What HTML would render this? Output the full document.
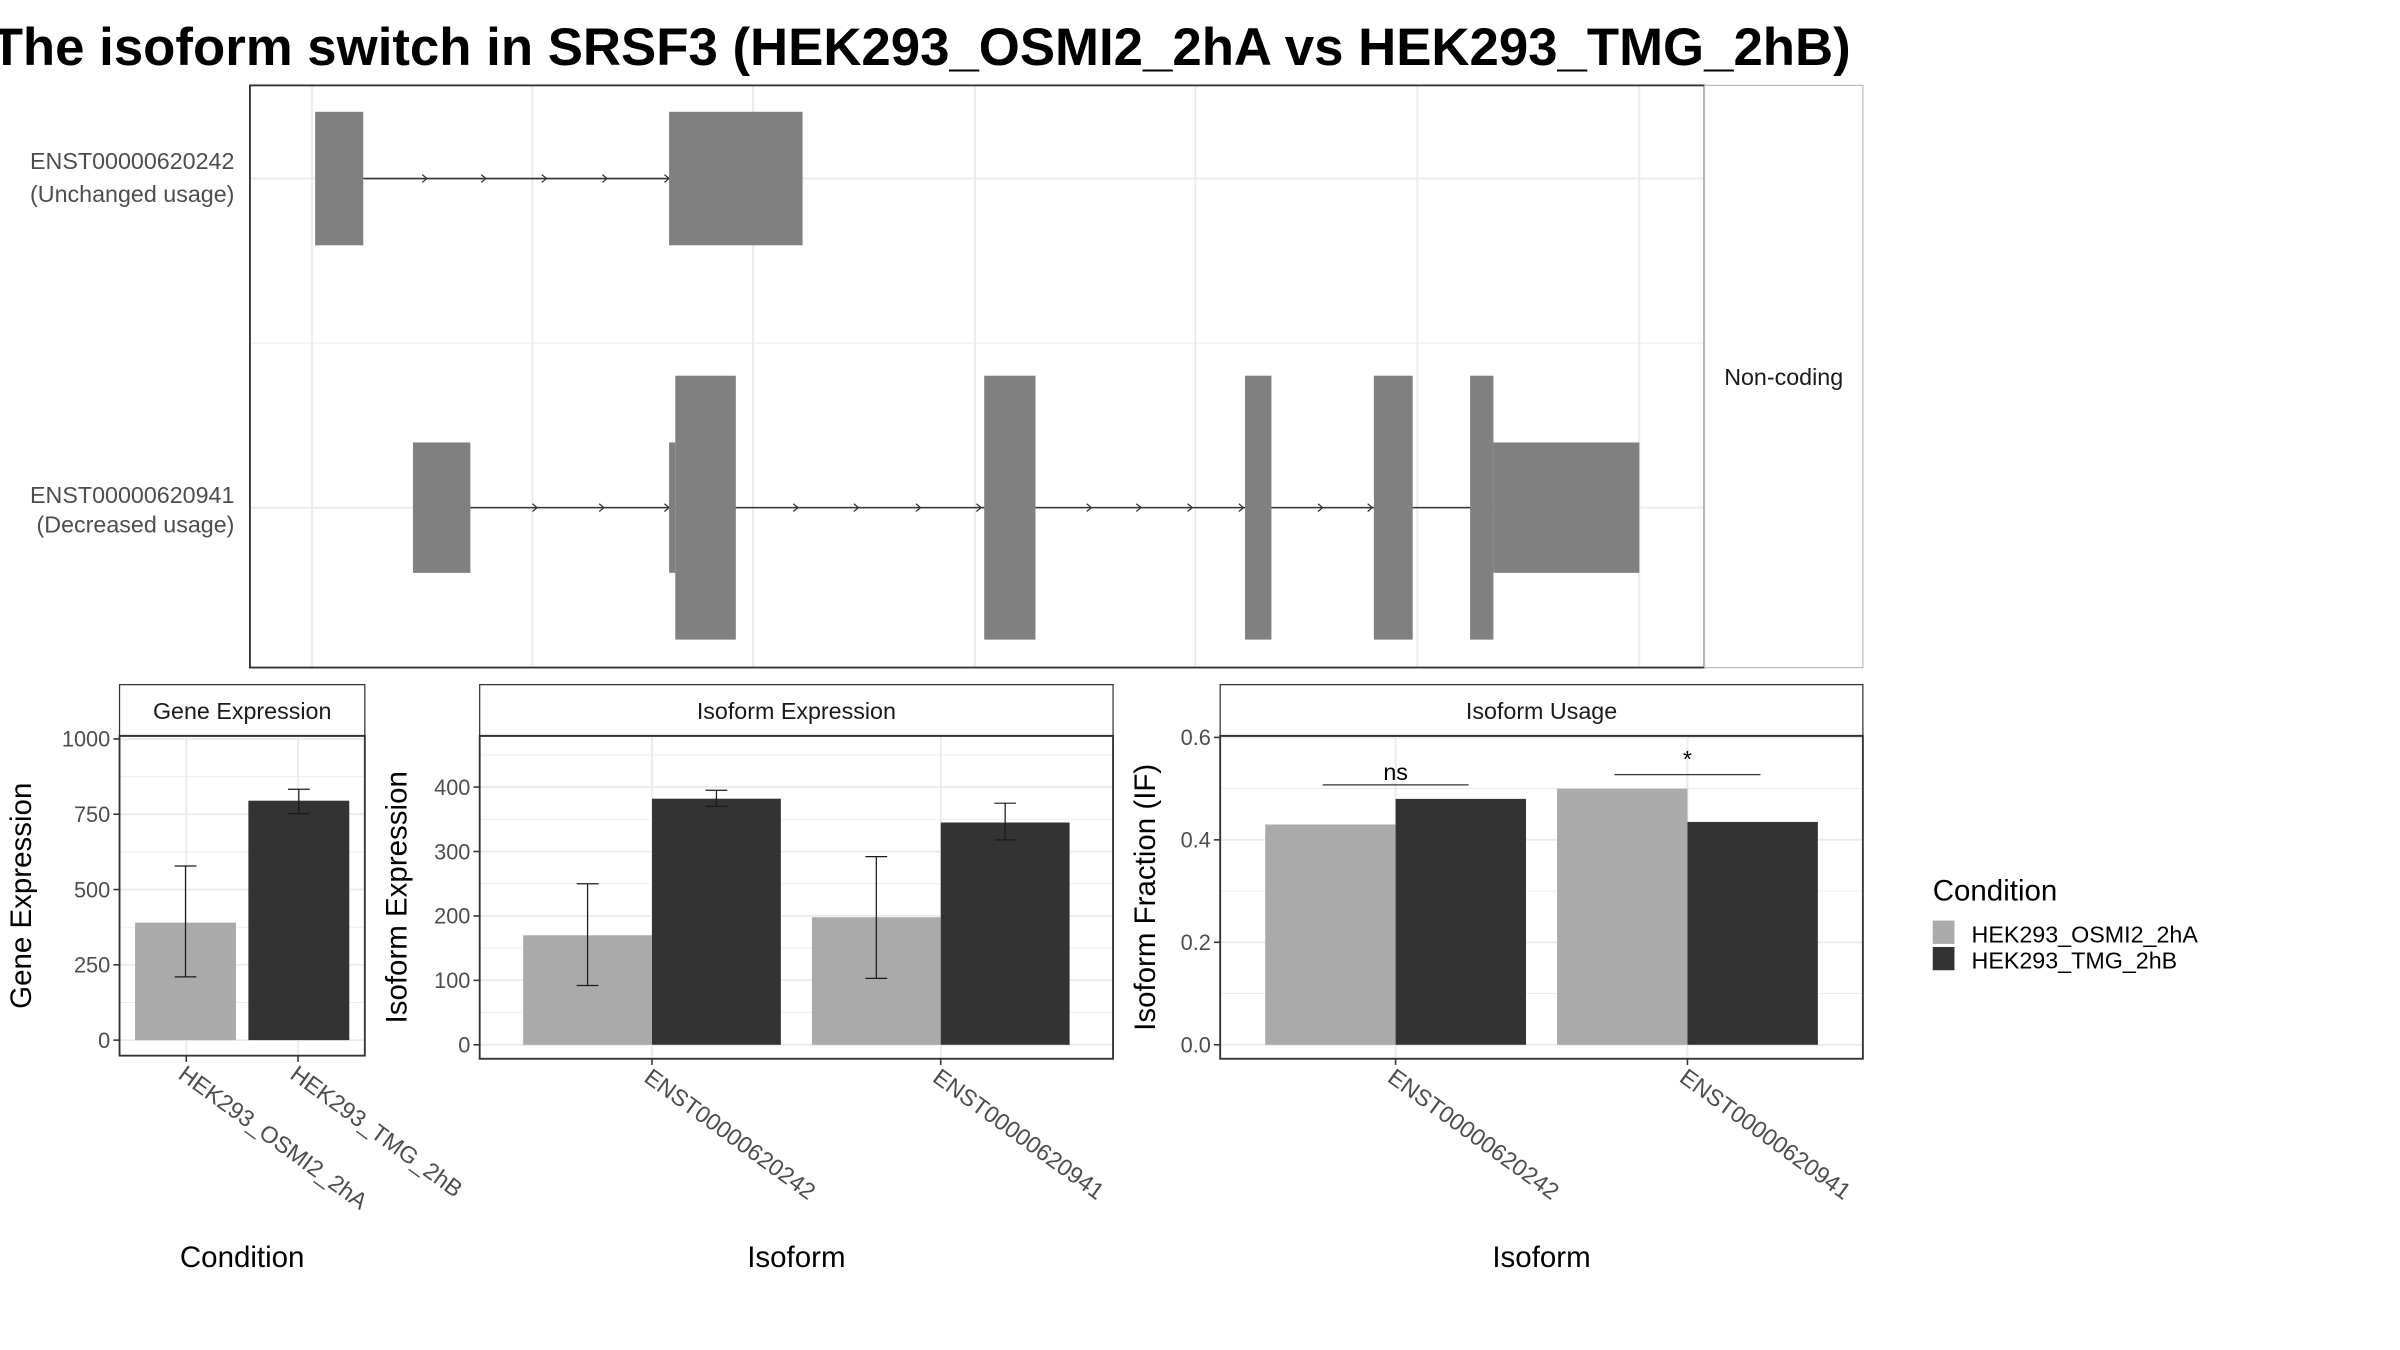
<!DOCTYPE html>
<html><head><meta charset="utf-8"><style>
html,body{margin:0;padding:0;background:#fff;width:2400px;height:1350px;overflow:hidden}
svg{display:block;font-family:"Liberation Sans",sans-serif}
</style></head><body>
<svg id="s" width="2400" height="1350" viewBox="0 0 1546 869.6" xmlns="http://www.w3.org/2000/svg">
<text x="-6" y="42" font-size="34" font-weight="bold" fill="#000">The isoform switch in SRSF3 (HEK293_OSMI2_2hA vs HEK293_TMG_2hB)</text>
<g id="tx"></g>
<g id="ge"></g>
<g id="ie"></g>
<g id="iu"></g>
<g>
<text x="1245" y="580" font-size="19">Condition</text>
<rect x="1245" y="593" width="14" height="15" fill="#aaaaaa"/>
<rect x="1245" y="610" width="14" height="15" fill="#333333"/>
<text x="1270" y="607" font-size="15">HEK293_OSMI2_2hA</text>
<text x="1270" y="624" font-size="15">HEK293_TMG_2hB</text>
</g>
</svg>
<script>
// ---- data ----
const conditions = ["HEK293_OSMI2_2hA","HEK293_TMG_2hB"];
const isoforms = ["ENST00000620242","ENST00000620941"];
const geneExpr = [390, 795];
const geneLo = [210, 752];
const geneHi = [578, 833];
const isoExprA = [170, 198];
const isoExprB = [382, 345];
const isoLoA = [92, 103], isoHiA = [250, 292];
const isoLoB = [370, 318], isoHiB = [395, 375];
const ifA = [0.43, 0.50];
const ifB = [0.48, 0.435];
const sigLabels = ["ns","*"];
const geneTicks = [0,250,500,750,1000];
const isoTicks = [0,100,200,300,400];
const ifTicks = [0.0,0.2,0.4,0.6];
const colors = ["#aaaaaa","#333333"];

const NS="http://www.w3.org/2000/svg";
function el(p,tag,a,txt){const e=document.createElementNS(NS,tag);for(const k in a)e.setAttribute(k,a[k]);if(txt!==undefined)e.textContent=txt;p.appendChild(e);return e;}

// ---- transcript panel ----
(function(){
const g=document.getElementById('tx');
el(g,'rect',{x:161,y:55,width:937,height:375,fill:'#fff'});
[201,343,485,628,770,913,1056].forEach(x=>el(g,'line',{x1:x,x2:x,y1:55,y2:430,stroke:'#ebebeb','stroke-width':1.2}));
[[115,1.2],[221,0.6],[327,1.2]].forEach(([y,w])=>el(g,'line',{x1:161,x2:1098,y1:y,y2:y,stroke:'#ebebeb','stroke-width':w}));
function tr(cy,x1,x2,arrows,exons,name){
  const t=el(g,'g',{});
  
  
  el(t,'line',{x1:x1,x2:x2,y1:cy,y2:cy,stroke:'#333','stroke-width':1});
  arrows.forEach(x=>el(t,'path',{d:`M${x-3},${cy-2.5} L${x},${cy} L${x-3},${cy+2.5}`,fill:'none',stroke:'#333','stroke-width':0.8}));
  exons.forEach(([a,b,h])=>{const r=el(t,'rect',{x:a,y:cy-h,width:b-a,height:2*h,fill:'#808080'});
    
    });
}
tr(115,234,431,[275,313,352,391,431],[[203,234,43],[431,517,43]],'transcript-ENST00000620242');
tr(327,303,962,[346,389,431,514,553,593,632,703,735,768,801,852,884],
  [[266,303,42],[431,435,42],[435,474,85],[634,667,85],[802,819,85],[885,910,85],[947,962,85],[962,1056,42]],'transcript-ENST00000620941');
el(g,'rect',{x:161,y:55,width:937,height:375,fill:'none',stroke:'#333','stroke-width':1.2});
el(g,'rect',{x:1098,y:55,width:102,height:375,fill:'#fff',stroke:'#bbb','stroke-width':0.8});
const nc=el(g,'text',{x:1149,y:248,'font-size':15,'text-anchor':'middle',fill:'#1a1a1a'},'Non-coding');


[['ENST00000620242',109],['(Unchanged usage)',130],['ENST00000620941',324],['(Decreased usage)',343]].forEach(([t,y])=>{
  const e=el(g,'text',{x:151,y:y,'font-size':15,'text-anchor':'end',fill:'#4d4d4d'},t);
  
  });
})();

// ---- bar panel builder ----
function panel(id,o){
  const g=document.getElementById(id);
  const y=v=>o.y0-(v-o.vmin)/(o.vmax-o.vmin)*(o.y0-o.y1);
  el(g,'rect',{x:o.px,y:474,width:o.pw,height:o.pb-474,fill:'#fff'});
  o.ticks.forEach((t,i)=>{
    if(i<o.ticks.length-1){const m=(t+o.ticks[i+1])/2;el(g,'line',{x1:o.px,x2:o.px+o.pw,y1:y(m),y2:y(m),stroke:'#ebebeb','stroke-width':0.6});}
    el(g,'line',{x1:o.px,x2:o.px+o.pw,y1:y(t),y2:y(t),stroke:'#ebebeb','stroke-width':1.2});
  });
  if(o.extraMinor) el(g,'line',{x1:o.px,x2:o.px+o.pw,y1:y(o.extraMinor),y2:y(o.extraMinor),stroke:'#ebebeb','stroke-width':0.6});
  o.centers.forEach(c=>el(g,'line',{x1:c,x2:c,y1:474,y2:o.pb,stroke:'#ebebeb','stroke-width':1.2}));
  o.bars.forEach(b=>{
    const r=el(g,'rect',{x:b.x,y:y(b.v),width:b.w,height:y(o.vmin)-y(b.v),fill:b.c});
    
    
    if(b.lo!==undefined){
      const cx=b.x+b.w/2,e=el(g,'g',{stroke:'#1a1a1a','stroke-width':0.8});
      
      
      el(e,'line',{x1:cx,x2:cx,y1:y(b.lo),y2:y(b.hi)});
      el(e,'line',{x1:cx-7,x2:cx+7,y1:y(b.lo),y2:y(b.lo)});
      el(e,'line',{x1:cx-7,x2:cx+7,y1:y(b.hi),y2:y(b.hi)});
    }
  });
  el(g,'rect',{x:o.px,y:474,width:o.pw,height:o.pb-474,fill:'none',stroke:'#333','stroke-width':1.2});
  el(g,'rect',{x:o.px,y:441,width:o.pw,height:33,fill:'#fff',stroke:'#333','stroke-width':0.8});
  el(g,'line',{x1:o.px,x2:o.px+o.pw,y1:474,y2:474,stroke:'#333','stroke-width':1.2});
  const st=el(g,'text',{x:o.px+o.pw/2,y:463,'font-size':15,'text-anchor':'middle',fill:'#1a1a1a'},o.strip);
  
  
  o.ticks.forEach(t=>{
    el(g,'line',{x1:o.px-4,x2:o.px,y1:y(t),y2:y(t),stroke:'#333','stroke-width':1});
    const tl=el(g,'text',{x:o.px-6,y:y(t)+5,'font-size':14,'text-anchor':'end',fill:'#4d4d4d'},o.fmt(t));
    
    
  });
  o.centers.forEach((c,i)=>{
    el(g,'line',{x1:c,x2:c,y1:o.pb,y2:o.pb+4,stroke:'#333','stroke-width':1});
    const tl=el(g,'text',{x:c-6,y:o.pb+14,'font-size':15,fill:'#4d4d4d',transform:`rotate(36 ${c-6} ${o.pb+14})`},o.labels[i]);
    
    
  });
  const yt=el(g,'text',{x:0,y:0,'font-size':19,'text-anchor':'middle',fill:'#000',transform:`translate(${o.ytx},${(474+o.pb)/2}) rotate(-90)`},o.ytitle);
  
  
  const xt=el(g,'text',{x:o.px+o.pw/2,y:816,'font-size':19,'text-anchor':'middle',fill:'#000'},o.xtitle);
  
  
  return {g,y};
}

// gene expression
panel('ge',{px:77,pw:158,pb:680,y0:670,y1:476,vmin:0,vmax:1000,ticks:geneTicks,fmt:t=>String(t),
  centers:[120,192],labels:conditions,strip:'Gene Expression',ytitle:'Gene Expression',ytx:20,xtitle:'Condition',
  bars:geneExpr.map((v,i)=>({x:[87,160][i],w:65,v:v,c:colors[i],lo:geneLo[i],hi:geneHi[i],name:'bar-gene-'+conditions[i]}))});

// isoform expression
const gc1=[420,606];
panel('ie',{px:309,pw:408,pb:682,y0:673,y1:507,vmin:0,vmax:400,ticks:isoTicks,fmt:t=>String(t),extraMinor:450,
  centers:gc1,labels:isoforms,strip:'Isoform Expression',ytitle:'Isoform Expression',ytx:262,xtitle:'Isoform',
  bars:[].concat(...isoforms.map((f,i)=>[
    {x:gc1[i]-83,w:83,v:isoExprA[i],c:colors[0],lo:isoLoA[i],hi:isoHiA[i],name:'bar-isoexpr-A-'+f},
    {x:gc1[i],w:83,v:isoExprB[i],c:colors[1],lo:isoLoB[i],hi:isoHiB[i],name:'bar-isoexpr-B-'+f}]))});

// isoform usage
const gc2=[899,1087];
const u=panel('iu',{px:786,pw:414,pb:682,y0:673,y1:475,vmin:0,vmax:0.6,ticks:ifTicks,fmt:t=>t.toFixed(1),
  centers:gc2,labels:isoforms,strip:'Isoform Usage',ytitle:'Isoform Fraction (IF)',ytx:744,xtitle:'Isoform',
  bars:[].concat(...isoforms.map((f,i)=>[
    {x:gc2[i]-84,w:84,v:ifA[i],c:colors[0],name:'bar-if-A-'+f},
    {x:gc2[i],w:84,v:ifB[i],c:colors[1],name:'bar-if-B-'+f}]))});
isoforms.forEach((f,i)=>{
  const top=Math.max(ifA[i],ifB[i]);
  const yy=u.y(top)-9;
  const l=el(u.g,'line',{x1:gc2[i]-47,x2:gc2[i]+47,y1:yy,y2:yy,stroke:'#333','stroke-width':0.8});
  
  
  const t=el(u.g,'text',{x:gc2[i],y:yy-(sigLabels[i]==='*'?5:3),'font-size':15,'text-anchor':'middle',fill:'#000'},sigLabels[i]);
  
  
});
</script>
</body></html>
